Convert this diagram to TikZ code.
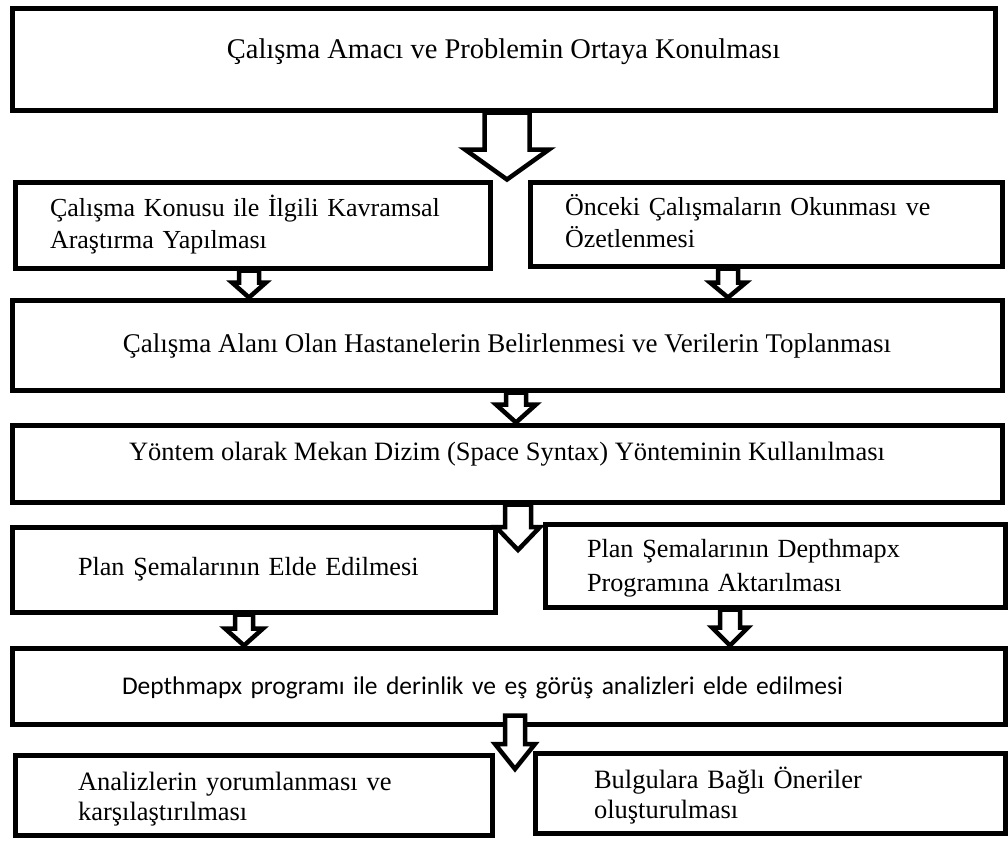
\documentclass[tikz,border=0pt]{standalone}
\usepackage{fontspec}
\setmainfont{Liberation Serif}
\newfontfamily\carlito{Carlito}
\usetikzlibrary{calc}

\tikzset{
  box/.style={draw=black, line width=5pt, fill=white, inner ysep=0pt,
    font=\fontsize{27}{32}\selectfont},
  flowarrow/.style={draw=black, line width=4.5pt, fill=white, line join=miter, miter limit=10},
}

% move a line of text up (or down) without changing its reported size
\newcommand\liftby[2]{\raisebox{#1}[\height][\depth]{\mbox{#2}}}

% hollow block arrow: #1 tail point, #2 tip point, #3 x of the axis,
% #4 half shaft width, #5 half head width, #6 head length (all in pt)
\newcommand\blockarrow[6]{%
  \draw[flowarrow] let \p1=#1, \p2=#2 in
    (#3pt-#4pt,\y1) -- (#3pt-#4pt,\y2+#6pt) -- (#3pt-#5pt,\y2+#6pt) -- (#3pt,\y2)
    -- (#3pt+#5pt,\y2+#6pt) -- (#3pt+#4pt,\y2+#6pt) -- (#3pt+#4pt,\y1) -- cycle;
}

\begin{document}
\begin{tikzpicture}[x=1pt, y=-1pt]
\useasboundingbox[fill=white] (0,0) rectangle (1008,843);

% boxes
\node[box, minimum width=983, minimum height=101, font=\fontsize{28.5}{33}\selectfont] (b1) at (503.5,59.5)
  {\liftby{8pt}{Çalışma Amacı ve Problemin Ortaya Konulması}};

\node[box, minimum width=475, minimum height=86, inner xsep=35, text width=405, align=left,
  font=\fontsize{26}{32}\selectfont] (b2l) at (252.5,225)
  {\liftby{0pt}{Çalışma Konusu ile İlgili Kavramsal}\\\liftby{0pt}{Araştırma Yapılması}};
\node[box, minimum width=472, minimum height=84, inner xsep=35, text width=402, align=left,
  font=\fontsize{26}{32}\selectfont] (b2r) at (766,224)
  {\liftby{3pt}{Önceki Çalışmaların Okunması ve}\\\liftby{3pt}{Özetlenmesi}};

\node[box, minimum width=990, minimum height=90] (b3) at (507,345)
  {\liftby{-1pt}{Çalışma Alanı Olan Hastanelerin Belirlenmesi ve Verilerin Toplanması}};

\node[box, minimum width=990, minimum height=77, font=\fontsize{26.5}{32}\selectfont] (b4) at (507,463.5)
  {\liftby{9pt}{Yöntem olarak Mekan Dizim (Space Syntax) Yönteminin Kullanılması}};

\node[box, minimum width=483, minimum height=85, inner xsep=66, text width=351, align=left,
  font=\fontsize{26.2}{32}\selectfont] (b5l) at (253.5,569.5)
  {\liftby{0pt}{Plan Şemalarının Elde Edilmesi}};
\node[box, minimum width=460, minimum height=83, inner xsep=42, text width=376, align=left,
  font=\fontsize{26.2}{34}\selectfont] (b5r) at (775,565.5)
  {\liftby{-3pt}{Plan Şemalarının Depthmapx}\\\liftby{-3pt}{Programına Aktarılması}};

\node[box, minimum width=993, minimum height=76, inner xsep=110, text width=773, align=left,
  font=\carlito\fontsize{25.5}{31}\selectfont] (b6) at (508.5,686)
  {\liftby{-2pt}{Depthmapx programı ile derinlik ve eş görüş analizleri elde edilmesi}};

\node[box, minimum width=477, minimum height=80, inner xsep=63, text width=351, align=left,
  font=\fontsize{26.5}{30}\selectfont] (b7l) at (253.5,795)
  {\liftby{-4pt}{Analizlerin yorumlanması ve}\\\liftby{-4pt}{karşılaştırılması}};
\node[box, minimum width=470, minimum height=80, inner xsep=59, text width=352, align=left,
  font=\fontsize{26.5}{30}\selectfont] (b7r) at (770,793)
  {\liftby{-3pt}{Bulgulara Bağlı Öneriler}\\\liftby{-3pt}{oluşturulması}};

% free ends of the arrows that stop between two boxes
\coordinate (a4tip) at (518,550);
\coordinate (a6tail) at ($(b6.south)+(0,-11)$);
\coordinate (a6tip) at (515,769);

% arrows
\blockarrow{(b1.south)}{(b2l.north)}{507}{22.5}{42}{30}
\blockarrow{(b2l.south)}{(b3.north)}{249}{10}{17}{15}
\blockarrow{(b2r.south)}{(b3.north)}{728}{10}{18}{15}
\blockarrow{(b3.south)}{(b4.north)}{516}{10}{20}{18}
\blockarrow{(b4.south)}{(a4tip)}{518}{13}{22}{23}
\blockarrow{(b5l.south)}{(b6.north)}{244}{9}{19}{17}
\blockarrow{(b5r.south)}{(b6.north)}{730}{10}{18}{18}
\blockarrow{(a6tail)}{(a6tip)}{515}{10}{20}{25}
\end{tikzpicture}
\end{document}
